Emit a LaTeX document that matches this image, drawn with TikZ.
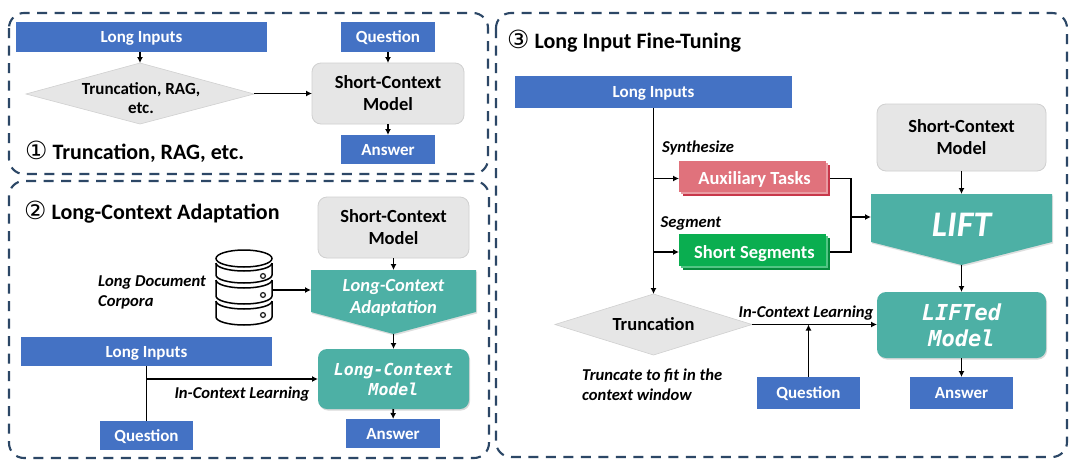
\documentclass[tikz,border=0pt]{standalone}
\usepackage{fontspec}
\setmainfont{Carlito}
\newfontfamily\dvsans{DejaVu Sans}
\newfontfamily\dvmono{DejaVu Sans Mono}
\usetikzlibrary{arrows.meta,shadows,calc}
\definecolor{panelc}{HTML}{2C4766}
\definecolor{bluec}{HTML}{4472C4}
\definecolor{grayc}{HTML}{E6E6E6}
\definecolor{graye}{HTML}{D0D0D0}
\definecolor{tealc}{HTML}{4DB0A5}
\definecolor{redc}{HTML}{E0727C}
\definecolor{redd}{HTML}{C8374A}
\definecolor{greenc}{HTML}{0AAE50}
\definecolor{greend}{HTML}{078C3E}
\newcommand\fs[2]{\fontsize{#1}{#2}\selectfont}
\newcommand\pbox[7][]{\node[#2,#1,minimum width={(#5-#3)*1pt},minimum height={(#6-#4)*1pt}] (#7) at ({(#3+#5)/2},{(#4+#6)/2})}
\newcommand\circd[1]{{\dvsans\mdseries\fs{25}{24}#1}}
\tikzset{
  x=1pt,y=-1pt,
  panel/.style={draw=panelc,line width=2.1pt,dash pattern=on 10pt off 7.5pt,rounded corners=15pt},
  base/.style={inner sep=0pt,outer sep=0pt,align=center},
  bluebox/.style={base,fill=bluec,text=white,text depth=0pt,font=\bfseries\fs{17}{19}},
  graybox/.style={base,fill=grayc,draw=graye,line width=.8pt,rounded corners=9pt,font=\bfseries\fs{18.5}{22}},
  tealbox/.style={base,fill=tealc,rounded corners=9pt,text=white,font=\dvmono\bfseries\itshape\fs{16.5}{20},
    drop shadow={opacity=.3,shadow xshift=1pt,shadow yshift=-1.5pt}},
  ghost/.style={base},
  graypoly/.style={fill=grayc,draw=graye,line width=.6pt},
  tealpoly/.style={fill=tealc,drop shadow={opacity=.25,shadow xshift=1pt,shadow yshift=-1.5pt}},
  arr/.style={draw=black,line width=1.6pt,-{Latex[length=6pt,width=6pt]}},
  ln/.style={draw=black,line width=1.6pt},
  lab/.style={inner sep=0pt,align=left,font=\bfseries\itshape\fs{16.6}{20}},
  title/.style={inner sep=0pt,anchor=west,font=\bfseries\fs{22}{24}},
  db/.style={draw=black,line width=1.5pt,fill=white}
}
\begin{document}
\begin{tikzpicture}
\useasboundingbox (0,0) rectangle (1080,464);
\fill[white] (0,0) rectangle (1080,464);
% panels
\draw[panel] (9,13) rectangle (488,174);
\draw[panel] (9,181) rectangle (489,458);
\draw[panel] (496,13) rectangle (1067,457);

% ---------- panel 1
\pbox{bluebox}{16}{22}{267}{52}{a1} {Long Inputs};
\pbox{bluebox}{341}{22}{435}{52}{a2} {Question};
\pbox{graybox}{312}{63}{464}{124}{a3} {Short-Context\\Model};
\pbox{bluebox}{341}{135}{435}{164}{a4} {Answer};
\fill[graypoly] (26,94) -- (140,63) -- (254,94) -- (140,124) -- cycle;
\pbox{ghost}{26}{63}{254}{124}{a5} {};
\node[base,font=\bfseries\fs{17}{19.5}] (a6) at (141,98) {Truncation, RAG,\\etc.};
\node[title] (t1) at (25,152) {\circd{①} Truncation, RAG, etc.};
\draw[arr] (a1.south -| a5.north) -- (a5.north);
\draw[arr] (a2) -- (a3);
\draw[arr] (a3) -- (a4);
\draw[arr] (a5.east) -- (a3.west);

% ---------- panel 2
\node[title] (t2) at (24,212) {\circd{②} Long-Context Adaptation};
\pbox{graybox}{318}{197}{469}{258}{b1} {Short-Context\\Model};
\fill[tealpoly] (311,270) -- (476,270) -- (476,312) -- (393.5,334) -- (311,312) -- cycle;
\pbox{ghost}{311}{270}{476}{334}{b2} {};
\node[base,text=white,font=\bfseries\itshape\fs{18.5}{22}] (b12) at (393.5,298) {Long-Context\\Adaptation};
\pbox{tealbox}{318}{349}{469}{409}{b3} {Long-Context\\Model};
\pbox{bluebox}{346}{419}{440}{448}{b4} {Answer};
\pbox{bluebox}{100}{421}{193}{450}{b5} {Question};
\pbox{bluebox}{21}{337}{272}{366}{b6} {Long Inputs};
\node[lab,anchor=north west] (b7) at (98,275.5) {Long Document\\Corpora};
\node[lab] (b8) at (242,394) {In-Context Learning};
% database icon
\pbox{ghost}{216}{250}{272}{325}{b9} {};
\foreach \ya/\yb in {301/317,280/296,263/275}{
  \draw[db] (216,\ya) -- (216,\yb) arc[start angle=180,end angle=0,x radius=28,y radius=8] -- (272,\ya);
  \draw[db,fill=none] (216,\ya) arc[start angle=180,end angle=0,x radius=28,y radius=8];
}
\draw[db] (244,258.5) ellipse[x radius=28,y radius=8.5];
\foreach \y in {276,295,315}{\draw[draw=black!85,line width=1.3pt,fill=white] (263,\y) circle[radius=2.4];}
\draw[arr] (b1) -- (b2.north);
\draw[arr] (b9.east) ++(0,2.5) -- ($(b2.west)+(0,-12)$);
\draw[arr] (b2.south) -- (b3);
\draw[arr] (b3) -- (b4);
\coordinate (b10) at (b6.south -| b5.north);
\draw[ln] (b10) -- (b5.north);
\coordinate (b11) at (146.5,379);
\draw[arr] (b11) -- (b11 -| b3.west);

% ---------- panel 3
\node[title] (t3) at (507,41.5) {\circd{③} Long Input Fine-Tuning};
\pbox{bluebox}{515}{76}{792}{108}{c1} {Long Inputs};
\pbox{graybox}{877}{104}{1046}{171}{c2} {Short-Context\\Model};
% stacked boxes
\fill[redd] (683,165) rectangle (830,196);
\fill[redc!70!white] (681,163) rectangle (828,194);
\fill[redc] (679,161) rectangle (826,192);
\pbox{ghost,text=white,text depth=0pt,font=\bfseries\fs{18.5}{22}}{679}{161}{830}{196}{c3} {Auxiliary Tasks};
\fill[greend] (683,238) rectangle (830,270);
\fill[greenc!70!white] (681,236) rectangle (828,268);
\fill[greenc] (679,234) rectangle (826,266);
\pbox{ghost,text=white,text depth=0pt,font=\bfseries\fs{18.5}{22}}{679}{234}{830}{270}{c4} {Short Segments};
\fill[tealpoly] (871,194) -- (1052,194) -- (1052,242) -- (961.5,265) -- (871,242) -- cycle;
\pbox{ghost}{871}{194}{1052}{265}{c5} {};
\node[base,text=white,font=\bfseries\itshape\fs{36}{40}] (c17) at (961.5,225) {LIFT};
\pbox[font=\dvmono\bfseries\itshape\fs{22}{26}]{tealbox}{877}{292}{1046}{358}{c6} {LIFTed\\Model};
\pbox{bluebox}{910}{377}{1013}{409}{c7} {Answer};
\pbox{bluebox}{757}{377}{860}{409}{c8} {Question};
\fill[graypoly] (555,324.5) -- (653.5,294) -- (752,324.5) -- (653.5,355) -- cycle;
\pbox{ghost,font=\bfseries\fs{18.5}{22}}{555}{294}{752}{355}{c9} {Truncation};
\node[lab,anchor=west] (c10) at (662,148) {Synthesize};
\node[lab,anchor=west] (c11) at (660.5,223) {Segment};
\node[lab] (c12) at (806,313) {In-Context Learning};
\node[lab,anchor=north west] (c13) at (582,369) {Truncate to fit in the\\context window};
\draw[arr] (c1.south) -- (c9.north);
\coordinate (c14) at (c1.south);
\draw[arr] (c14 |- c3.west) -- (c3.west);
\draw[arr] (c14 |- c4.west) -- (c4.west);
\coordinate (c15) at (851,217);
\draw[ln] (c3.east) -| (c15);
\draw[ln] (c4.east) -| (c15);
\draw[arr] (c15) -- (c15 -| c5.west);
\draw[arr] (c2) -- (c5.north);
\draw[arr] (c5.south) -- (c6);
\draw[arr] (c6.south -| c7.north) -- (c7.north);
\draw[arr] (c9.east) -- (c9.east -| c6.west);
\coordinate (c16) at (c9.east -| c8.north);
\draw[arr] (c8.north) -- (c16);
\end{tikzpicture}
\end{document}
